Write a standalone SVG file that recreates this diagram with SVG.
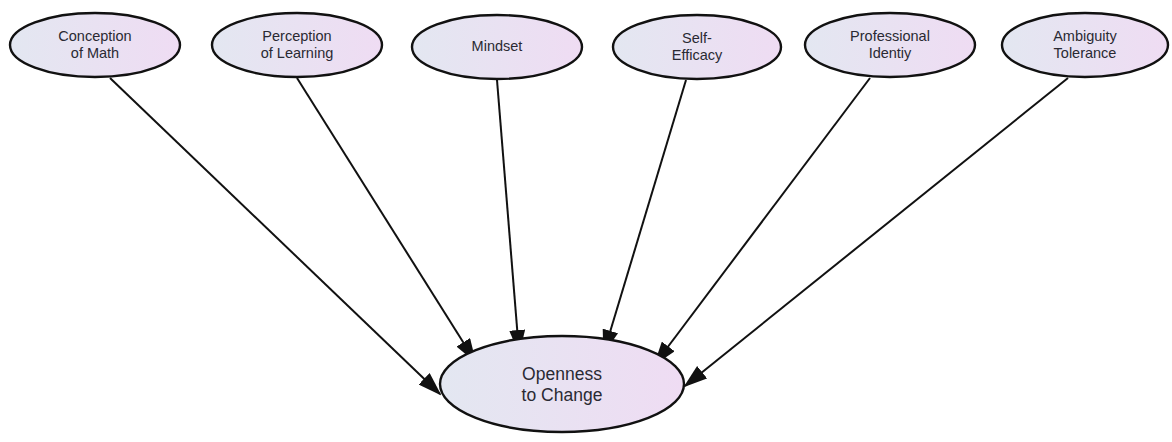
<svg xmlns="http://www.w3.org/2000/svg" width="1172" height="442" viewBox="0 0 1172 442">
<style>
.n{stroke:#111;stroke-width:2.4;fill:url(#g)}
.t{font-family:"Liberation Sans",Arial,sans-serif;font-size:14.5px;fill:#2a2a33;text-anchor:middle}
.tb{font-family:"Liberation Sans",Arial,sans-serif;font-size:17.5px;fill:#2a2a33;text-anchor:middle}
.e{stroke:#111;stroke-width:2;fill:none;marker-end:url(#a)}
</style>
<defs>
<linearGradient id="g" x1="0" y1="0" x2="1" y2="0">
<stop offset="0" stop-color="#e3e7f1"/>
<stop offset="1" stop-color="#efdcf3"/>
</linearGradient>
<marker id="a" markerWidth="12" markerHeight="8" refX="11" refY="4" orient="auto" markerUnits="strokeWidth">
<path d="M0,0 L12,4 L0,8 z" fill="#111"/>
</marker>
</defs>
<rect width="1172" height="442" fill="#fff"/>
<g id="connectors">
<line class="e" x1="110" y1="78" x2="440" y2="394"/>
<line class="e" x1="297" y1="78" x2="475" y2="361"/>
<line class="e" x1="497" y1="80" x2="519" y2="352"/>
<line class="e" x1="686" y1="80" x2="604" y2="352"/>
<line class="e" x1="870" y1="78" x2="655" y2="364"/>
<line class="e" x1="1068" y1="78" x2="685" y2="386"/>
</g>
<g id="n1"><ellipse class="n" cx="95" cy="45" rx="85" ry="32"/><text class="t" x="95" y="41">Conception</text><text class="t" x="95" y="58">of Math</text></g>
<g id="n2"><ellipse class="n" cx="297" cy="45" rx="85" ry="32"/><text class="t" x="297" y="41">Perception</text><text class="t" x="297" y="58">of Learning</text></g>
<g id="n3"><ellipse class="n" cx="497" cy="47" rx="85" ry="32"/><text class="t" x="497" y="51">Mindset</text></g>
<g id="n4"><ellipse class="n" cx="697" cy="47" rx="84" ry="32"/><text class="t" x="697" y="43">Self-</text><text class="t" x="697" y="60">Efficacy</text></g>
<g id="n5"><ellipse class="n" cx="890" cy="45" rx="85" ry="32"/><text class="t" x="890" y="41">Professional</text><text class="t" x="890" y="58">Identiy</text></g>
<g id="n6"><ellipse class="n" cx="1085" cy="45" rx="83" ry="32"/><text class="t" x="1085" y="41">Ambiguity</text><text class="t" x="1085" y="58">Tolerance</text></g>
<g id="n7"><ellipse class="n" cx="562" cy="384" rx="122" ry="48"/><text class="tb" x="562" y="380">Openness</text><text class="tb" x="562" y="401">to Change</text></g>
</svg>
